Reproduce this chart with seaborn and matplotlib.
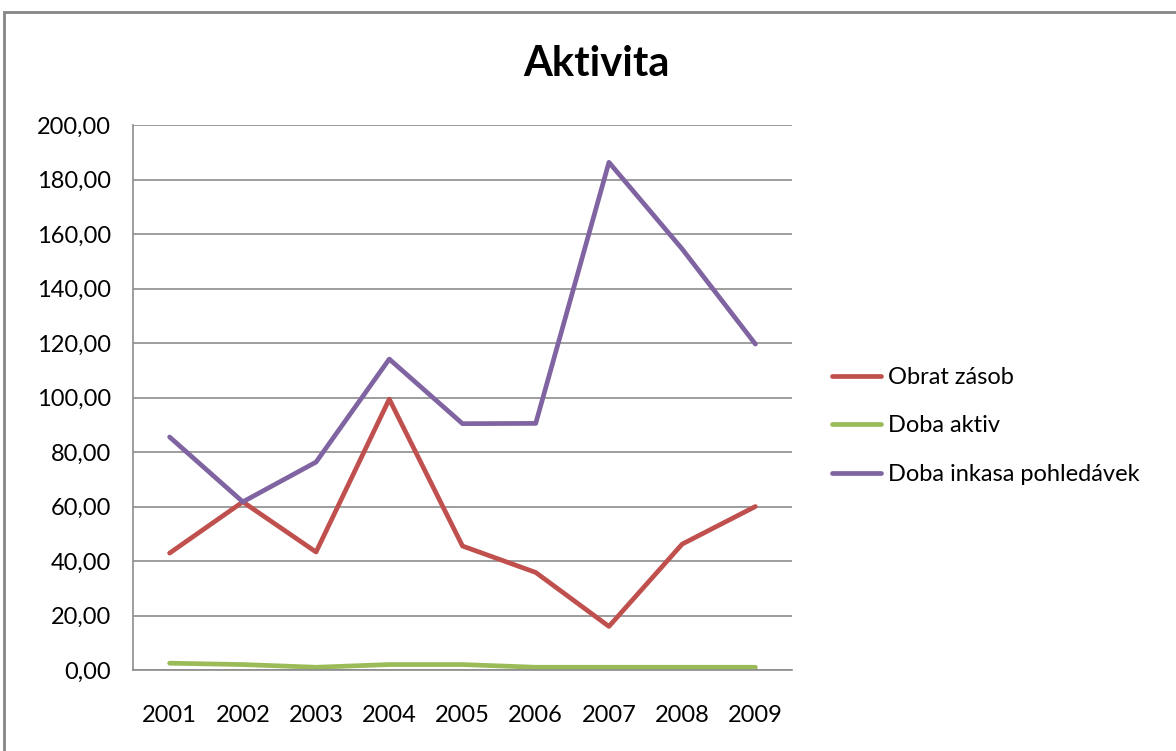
"""
Aktivita - line chart of three activity ratios, 2001-2009.
"""
import pandas as pd
import seaborn as sns
import matplotlib.pyplot as plt
from matplotlib.patches import Rectangle
from matplotlib.ticker import FuncFormatter, MultipleLocator

# Data
years = [2001, 2002, 2003, 2004, 2005, 2006, 2007, 2008, 2009]
obrat_zasob = [42.9, 61.7, 43.3, 99.4, 45.5, 35.8, 16.0, 46.2, 60.0]
doba_aktiv = [2.5, 2.0, 1.0, 2.0, 2.0, 1.0, 1.0, 1.0, 1.0]
doba_inkasa = [85.5, 61.7, 76.3, 114.1, 90.4, 90.5, 186.3, 154.5, 119.6]

series_names = ["Obrat zásob", "Doba aktiv", "Doba inkasa pohledávek"]
colors = ["#C0504D", "#9BBB59", "#8064A2"]


def build_frame() -> pd.DataFrame:
    frames = []
    for name, vals in zip(series_names, [obrat_zasob, doba_aktiv, doba_inkasa]):
        frames.append(pd.DataFrame({"rok": years, "hodnota": vals, "serie": name}))
    return pd.concat(frames, ignore_index=True)


def main() -> None:
    data = build_frame()

    sns.set_style("white")
    plt.rcParams["font.family"] = ["Lato", "DejaVu Sans"]
    plt.rcParams["text.color"] = "black"

    W, H = 1176, 751
    fig = plt.figure(figsize=(W / 100, H / 100), dpi=100)
    ax = fig.add_axes([133 / W, 1 - 670 / H, (792 - 133) / W, (670 - 125) / H])

    sns.lineplot(data=data, x="rok", y="hodnota", hue="serie",
                 hue_order=series_names, palette=colors, linewidth=3.4,
                 ax=ax, legend=True)

    ax.set_xlim(years[0] - 0.5, years[-1] + 0.5)
    ax.set_ylim(0, 200)
    ax.set_xticks(years)
    ax.set_xticklabels([str(y) for y in years])
    ax.yaxis.set_major_locator(MultipleLocator(20))
    ax.yaxis.set_major_formatter(FuncFormatter(lambda v, p: f"{v:.2f}".replace(".", ",")))
    ax.grid(axis="y", color="#8C8C8C", linewidth=1.2)
    ax.set_axisbelow(True)
    ax.set_xlabel("")
    ax.set_ylabel("")
    for side in ["top", "right"]:
        ax.spines[side].set_visible(False)
    for side in ["left", "bottom"]:
        ax.spines[side].set_color("#8C8C8C")
        ax.spines[side].set_linewidth(1.2)
    ax.tick_params(axis="y", length=0, pad=16, labelsize=17, colors="#000000")
    ax.tick_params(axis="x", length=0, pad=25, labelsize=17, colors="#000000")

    handles, labels = ax.get_legend_handles_labels()
    ax.get_legend().remove()
    fig.legend(handles, labels, loc="center left",
               bbox_to_anchor=(811 / W, 1 - 426 / H), frameon=False,
               fontsize=17, handlelength=2.05, handletextpad=0.33,
               labelspacing=1.17)

    fig.text(596 / W, 1 - 64 / H, "Aktivita", ha="center", va="center",
             fontsize=30, fontweight="bold", color="black")

    # outer chart frame (right and bottom edges fall outside the picture)
    fig.add_artist(Rectangle((4 / W, -0.1), 2, 1 - 12 / H + 0.1, fill=False,
                             edgecolor="#868686", linewidth=2,
                             transform=fig.transFigure))

    fig.savefig("out.png", dpi=100)


if __name__ == "__main__":
    main()
